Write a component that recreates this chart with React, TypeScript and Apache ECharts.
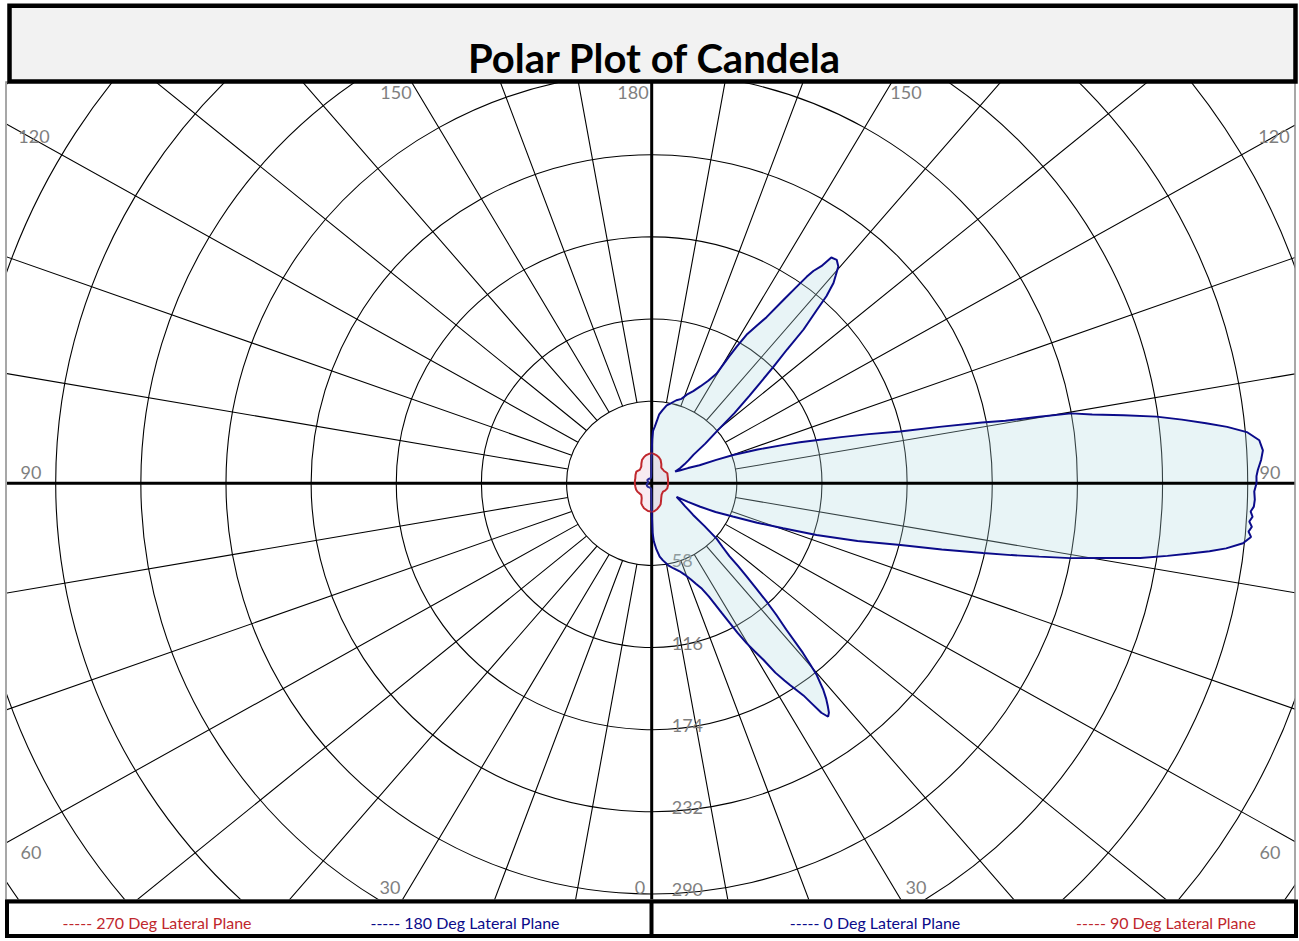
import React, { useEffect, useRef } from "react";
import * as echarts from "echarts";

// ---- data ----
const ringStep = 58;
const ringMin = 58;
const ringMax = 580;
const radiusTickLabels = [58, 116, 174, 232, 290];
const angleTickLabels = ["0", "30", "60", "90", "120", "150", "180"];
const legendLabels = [
  "----- 270 Deg Lateral Plane",
  "----- 180 Deg Lateral Plane",
  "----- 0 Deg Lateral Plane",
  "----- 90 Deg Lateral Plane",
];
const chartTitle = "Polar Plot of Candela";

// 0 Deg lateral plane (right side)
const deg0Angles = [
  0, 1, 2, 4, 6, 8, 11, 14, 17, 19, 21.5, 23, 24.7, 26, 26.6, 27.5, 28.3, 29, 29.8, 30.6,
  31.4, 32.2, 33, 33.5, 34.1, 34.6, 35.1, 35.5, 36.1, 36.7, 37.3, 38, 38.7, 39.7, 40.2, 40.7,
  41.6, 42.4, 43.1, 43.8, 44.5, 45.2, 45.8, 47, 48.5, 50, 51.6, 53, 54.5, 57, 59, 60.5, 62,
  63.4, 65, 67, 68.8, 70.5, 72, 73.8, 75.6, 76.7, 77.7, 78.3, 78.9, 79.5, 80.2, 81, 81.7,
  82.3, 82.8, 83.3, 84, 84.7, 85.2, 85.7, 86.2, 86.7, 87.2, 87.7, 88.4, 89.2, 90, 90.7, 91.3,
  92.3, 93.2, 94.2, 95.1, 95.8, 96.4, 97.1, 97.8, 98.5, 99.2, 99.8, 100.1, 100.4, 100.8,
  101.5, 102.2, 103.2, 104.2, 105.2, 106, 106.8, 108.3, 109.8, 110.6, 111.4, 113.5, 115.5,
  117.3, 119, 121, 123, 125.3, 127.5, 129.5, 131.3, 132.9, 133.8, 134.8, 135.7, 136.4, 137.4,
  138, 138.8, 139.5, 140.3, 141.4, 142.5, 143, 143.7, 144.1, 144.6, 145.3, 146.3, 147.3,
  148.3, 149, 149.5, 150.3, 152, 154.2, 156.5, 159.1, 161.2, 164, 167, 169.5, 172, 174,
  175.5, 177, 178.6, 179.4, 180,
];
const deg0Candela = [
  20, 35, 41, 47, 52, 55, 59, 62, 65, 68, 73, 77, 82, 89, 94, 103, 112, 121, 130, 138,
  146, 158, 166, 171, 177, 182, 191, 199, 204, 202, 198, 193, 187, 176, 167, 158,
  138, 126, 115, 103, 92, 83, 74, 66, 59, 47, 36, 32, 28, 24, 21, 19.5, 28,
  37, 48, 60, 77, 95, 118, 146, 175, 203, 231, 250, 269, 290, 310, 337, 355,
  370, 383, 394, 405, 410, 408, 410, 408, 410, 408.5, 410.5, 411, 410.5, 412, 412, 413,
  415.5, 417, 415, 407, 394, 380, 364, 347, 325, 304, 290, 268, 245, 229,
  200, 173, 152, 133, 116, 105, 94, 76, 59, 47, 35, 27, 21,
  18, 22, 26, 30, 35, 46, 57, 75, 91, 102, 117, 132, 150, 166,
  178, 188, 193, 199, 202, 201, 192, 186, 180, 170, 157, 141, 132,
  124, 113, 104, 89, 82, 76, 71, 67, 63, 61, 58, 56, 52, 49,
  44, 40, 37, 31, 21,
];

// 90 Deg lateral plane (right side)
const deg90Angles = [
  0, 5, 11.9, 17, 22.4, 27, 31.5, 40, 52.5, 60, 71.7, 85, 95.7, 105, 115, 123.8, 130, 136,
  143, 149.4, 154, 159.6, 165, 171.2, 176, 180,
];
const deg90Candela = [
  20, 19.8, 18.5, 17.3, 16, 14, 12.4, 10.5, 9.7, 10.5, 11.2, 11.2, 11.2, 11.5, 12, 12.8, 12.4,
  12.1, 12.4, 12.8, 15, 17.5, 19, 20.2, 20.8, 21,
];

// 270 Deg lateral plane (left side)
const deg270Angles = [
  0, 7.4, 16.6, 22, 26.7, 33, 40.5, 50, 59, 68, 77.9, 90, 100, 107.4, 118, 128, 134, 138.9,
  144, 148.8, 153, 158, 164, 169.5, 175, 180,
];
const deg270Candela = [
  20, 19.7, 18.4, 17, 15.8, 12.5, 10.9, 11, 11.4, 11.5, 11.4, 11.5, 11.6, 11.7, 12.5, 13.3,
  12.8, 12.5, 13, 13.7, 15.5, 17.7, 19.2, 20.3, 20.9, 21,
];

// 180 Deg lateral plane (left side)
const deg180Angles = [
  0, 0.5, 1, 2, 4, 8, 13, 25, 44, 60, 79, 95, 109, 118, 127, 145, 160, 169, 175, 178, 179,
  179.5, 180,
];
const deg180Candela = [
  20, 16, 12, 7, 4.5, 3.6, 3.3, 3.3, 3.6, 3.7, 3.5, 2.8, 2.2, 3, 3.8, 3.7, 3.6, 3.6, 4.5, 8,
  13, 17, 21,
];

// ---- layout ----
const PAGE_W = 1299;
const PAGE_H = 941;
const CENTER_X = 651.7;
const CENTER_Y = 483.3;
const PX_PER_CD_X = 1.468;
const PX_PER_CD_Y = 1.416;
const PLOT = { left: 7, top: 83, width: 1288, height: 817 };
const INNER_TOP = -50;
const INNER_H = 1100;

const RED = "#c0272d";
const NAVY = "#0b0b8a";
const LABEL_GRAY = "#7f7f7f";
const FONT = "Lato";

const angleLabelSpots = [
  { i: 0, x: 640, y: 887 },
  { i: 1, x: 390, y: 887 },
  { i: 1, x: 916, y: 887 },
  { i: 2, x: 31, y: 852 },
  { i: 2, x: 1270, y: 852 },
  { i: 3, x: 31, y: 472 },
  { i: 3, x: 1270, y: 472 },
  { i: 4, x: 34, y: 136 },
  { i: 4, x: 1274, y: 136 },
  { i: 5, x: 396, y: 92 },
  { i: 5, x: 906, y: 92 },
  { i: 6, x: 633, y: 92 },
];

const legendSpots = [
  { x: 157, color: RED },
  { x: 465, color: NAVY },
  { x: 875, color: NAVY },
  { x: 1166, color: RED },
];

function rightSide(angles: number[], values: number[]) {
  return angles.map((a, i) => [values[i], a]);
}
function leftSide(angles: number[], values: number[]) {
  return angles.map((a, i) => [values[i], 360 - a]);
}

export default function App() {
  const polarRef = useRef<HTMLDivElement>(null);
  const frameRef = useRef<HTMLDivElement>(null);

  useEffect(() => {
    if (!polarRef.current || !frameRef.current) return;
    const polarChart = echarts.init(polarRef.current, null, { renderer: "svg" });
    const frameChart = echarts.init(frameRef.current, null, { renderer: "svg" });

    const cxLocal = CENTER_X - PLOT.left;
    const cyLocal = CENTER_Y - PLOT.top - INNER_TOP;
    const innerR = ringMin * PX_PER_CD_X;
    const outerR = ringMax * PX_PER_CD_X;

    const lineBase = {
      type: "line",
      coordinateSystem: "polar",
      polarIndex: 1,
      symbol: "none",
      showSymbol: false,
      clip: false,
      silent: true,
      smooth: false,
    };

    polarChart.setOption({
      animation: false,
      polar: [
        { center: [cxLocal, cyLocal], radius: [innerR, outerR] },
        { center: [cxLocal, cyLocal], radius: [0, outerR] },
      ],
      angleAxis: [
        {
          polarIndex: 0,
          type: "value",
          min: 0,
          max: 360,
          interval: 10,
          startAngle: -90,
          clockwise: false,
          axisLine: { show: false },
          axisTick: { show: false },
          axisLabel: { show: false },
          splitLine: { show: true, lineStyle: { color: "#000", width: 1.1 } },
        },
        {
          polarIndex: 1,
          type: "value",
          min: 0,
          max: 360,
          interval: 10,
          startAngle: -90,
          clockwise: false,
          axisLine: { show: false },
          axisTick: { show: false },
          axisLabel: { show: false },
          splitLine: { show: false },
        },
      ],
      radiusAxis: [
        {
          polarIndex: 0,
          type: "value",
          min: ringMin,
          max: ringMax,
          interval: ringStep,
          axisLine: { show: false },
          axisTick: { show: false },
          axisLabel: {
            show: true,
            margin: 20,
            color: LABEL_GRAY,
            fontSize: 18,
            fontFamily: FONT,
            formatter: (v: number) =>
              radiusTickLabels.includes(Math.round(v)) ? "{v|" + Math.round(v) + "}" : "",
            rich: {
              v: {
                color: LABEL_GRAY,
                fontSize: 18,
                fontFamily: FONT,
                padding: [0, 0, 9, 0],
              },
            },
          },
          splitLine: { show: true, lineStyle: { color: "#000", width: 1.1 } },
        },
        {
          polarIndex: 1,
          type: "value",
          min: 0,
          max: ringMax,
          interval: ringStep,
          axisLine: { show: false },
          axisTick: { show: false },
          axisLabel: { show: false },
          splitLine: { show: false },
        },
      ],
      series: [
        {
          ...lineBase,
          name: "axisV",
          data: [
            [ringMax, 0],
            [0, 0],
            [ringMax, 180],
          ],
          lineStyle: { color: "#000", width: 3 },
        },
        {
          ...lineBase,
          name: "axisH",
          data: [
            [ringMax, 90],
            [0, 90],
            [ringMax, 270],
          ],
          lineStyle: { color: "#000", width: 3 },
        },
        {
          ...lineBase,
          name: "0 Deg Lateral Plane",
          data: rightSide(deg0Angles, deg0Candela),
          lineStyle: { color: NAVY, width: 2 },
          areaStyle: { color: "rgba(178,218,225,0.3)", opacity: 1, origin: 0 },
        },
        {
          ...lineBase,
          name: "90 Deg Lateral Plane",
          data: rightSide(deg90Angles, deg90Candela),
          lineStyle: { color: RED, width: 2 },
          areaStyle: { color: "rgba(205,120,160,0.15)", opacity: 1, origin: 0 },
        },
        {
          ...lineBase,
          name: "270 Deg Lateral Plane",
          data: leftSide(deg270Angles, deg270Candela),
          lineStyle: { color: RED, width: 2 },
          areaStyle: { color: "rgba(205,120,160,0.15)", opacity: 1, origin: 0 },
        },
        {
          ...lineBase,
          name: "180 Deg Lateral Plane",
          data: leftSide(deg180Angles, deg180Candela),
          lineStyle: { color: "#2a2a9a", width: 2 },
          areaStyle: { color: "rgba(120,120,200,0.15)", opacity: 1, origin: 0 },
        },
      ],
    });

    const graphics: any[] = [
      {
        type: "rect",
        shape: { x: 6, y: 82, width: 1289, height: 818 },
        style: { fill: "none", stroke: "#8a8a8a", lineWidth: 1.5 },
      },
      {
        type: "rect",
        shape: { x: 9.5, y: 5.8, width: 1286, height: 75.7 },
        style: { fill: "#f2f2f2", stroke: "#000", lineWidth: 4.5 },
      },
      {
        type: "text",
        x: 654,
        y: 58,
        style: {
          text: chartTitle,
          fontFamily: FONT,
          fontWeight: "bold",
          fontSize: 40,
          fill: "#000",
          align: "center",
          verticalAlign: "middle",
        },
      },
      {
        type: "rect",
        shape: { x: 7, y: 901.5, width: 1289, height: 34.5 },
        style: { fill: "#fff", stroke: "#000", lineWidth: 4 },
      },
      {
        type: "line",
        shape: { x1: 651.5, y1: 901.5, x2: 651.5, y2: 936 },
        style: { stroke: "#000", lineWidth: 4 },
      },
    ];
    legendSpots.forEach((s, i) => {
      graphics.push({
        type: "text",
        x: s.x,
        y: 922,
        style: {
          text: legendLabels[i],
          fontFamily: FONT,
          fontSize: 16,
          fill: s.color,
          align: "center",
          verticalAlign: "middle",
        },
      });
    });
    angleLabelSpots.forEach((s) => {
      graphics.push({
        type: "text",
        x: s.x,
        y: s.y,
        style: {
          text: angleTickLabels[s.i],
          fontFamily: FONT,
          fontSize: 18,
          fill: LABEL_GRAY,
          align: "center",
          verticalAlign: "middle",
        },
      });
    });

    frameChart.setOption({ animation: false, graphic: graphics });

    return () => {
      polarChart.dispose();
      frameChart.dispose();
    };
  }, []);

  const scaleY = PX_PER_CD_Y / PX_PER_CD_X;
  const cyLocal = CENTER_Y - PLOT.top - INNER_TOP;

  return (
    <div style={{ position: "absolute", left: 0, top: 0, width: PAGE_W, height: PAGE_H, background: "#fff" }}>
      <div
        style={{
          position: "absolute",
          left: PLOT.left,
          top: PLOT.top,
          width: PLOT.width,
          height: PLOT.height,
          overflow: "hidden",
        }}
      >
        <div
          ref={polarRef}
          style={{
            position: "absolute",
            left: 0,
            top: INNER_TOP,
            width: PLOT.width,
            height: INNER_H,
            transformOrigin: `0px ${cyLocal}px`,
            transform: `scaleY(${scaleY})`,
          }}
        />
      </div>
      <div
        ref={frameRef}
        style={{ position: "absolute", left: 0, top: 0, width: PAGE_W, height: PAGE_H, zIndex: 2, pointerEvents: "none" }}
      />
    </div>
  );
}
